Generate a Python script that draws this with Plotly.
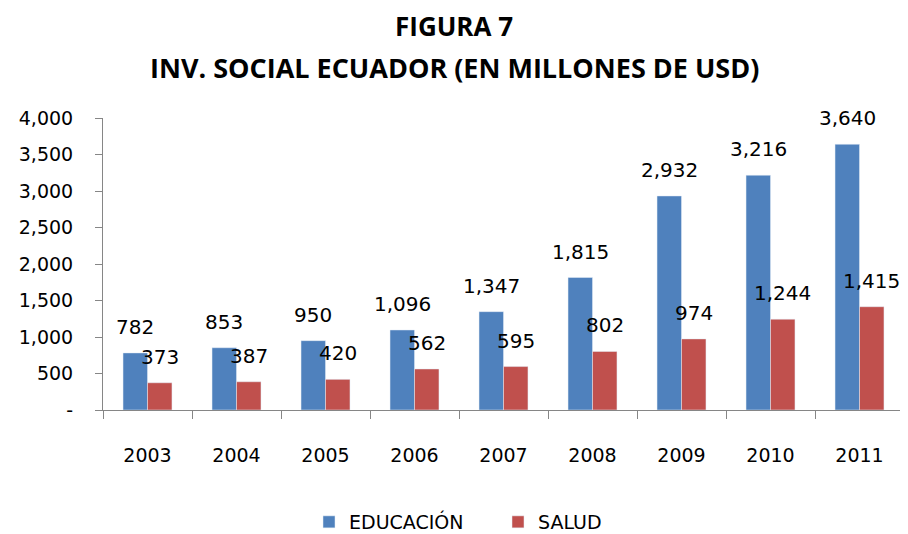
import plotly.graph_objects as go

years = ["2003", "2004", "2005", "2006", "2007", "2008", "2009", "2010", "2011"]
educacion = [782, 853, 950, 1096, 1347, 1815, 2932, 3216, 3640]
salud = [373, 387, 420, 562, 595, 802, 974, 1244, 1415]
y_tickvals = [0, 500, 1000, 1500, 2000, 2500, 3000, 3500, 4000]
y_ticktext = ["-", "500", "1,000", "1,500", "2,000", "2,500", "3,000", "3,500", "4,000"]

NUMFONT = "DejaVu Sans, Verdana, sans-serif"
TITLEFONT = "Open Sans, Calibri, sans-serif"

W, H = 908, 534
OFF = 8  # page body offset
ML, MT = 103 - OFF, 118 - OFF
MR = W - (904 - OFF)
MB = H - (410 - OFF)
plot_w = W - ML - MR
plot_h = H - MT - MB
bargap = 0.45
cat_w = plot_w / len(years)
bar_w = cat_w * (1 - bargap) / 2

fig = go.Figure()
fig.add_trace(go.Bar(x=years, y=educacion, name="EDUCACIÓN", marker_color="#4F81BD"))
fig.add_trace(go.Bar(x=years, y=salud, name="SALUD", marker_color="#C0504D"))

# data labels above each bar (x given as category index)
for series, shift in ((educacion, -bar_w / 2), (salud, bar_w / 2)):
    for i, v in enumerate(series):
        fig.add_annotation(x=i, y=v, xref="x", yref="y", text=f"{v:,}",
                           showarrow=False, xanchor="center", yanchor="middle",
                           xshift=shift, yshift=26,
                           font=dict(size=20, family=NUMFONT, color="#000000"))

fig.update_layout(
    width=W, height=H,
    paper_bgcolor="white", plot_bgcolor="white",
    margin=dict(l=ML, r=MR, t=MT, b=MB, autoexpand=False),
    barmode="group", bargap=bargap, bargroupgap=0,
    font=dict(family=NUMFONT, size=19, color="#000000"),
    showlegend=True,
    legend=dict(orientation="h", xref="container", yref="container",
                x=(309 - OFF) / W, xanchor="left", y=1 - (522 - OFF) / H, yanchor="middle",
                entrywidth=144, entrywidthmode="pixels",
                font=dict(size=19, family=NUMFONT), traceorder="normal"),
)
fig.add_annotation(text="<b>FIGURA 7</b>", xref="paper", yref="paper",
                   x=(454 - OFF - ML) / plot_w, y=1 + (MT - (26 - OFF)) / plot_h,
                   xanchor="center", yanchor="middle",
                   showarrow=False, font=dict(size=26, family=TITLEFONT))
fig.add_annotation(text="<b>INV. SOCIAL ECUADOR (EN MILLONES DE USD)</b>", xref="paper", yref="paper",
                   x=(454 - OFF - ML) / plot_w, y=1 + (MT - (67 - OFF)) / plot_h,
                   xanchor="center", yanchor="middle",
                   showarrow=False, font=dict(size=27, family=TITLEFONT))

fig.update_xaxes(
    type="category", categoryorder="array", categoryarray=years,
    range=[-0.5, len(years) - 0.5],
    showline=True, linecolor="#868686", linewidth=1,
    ticks="outside", tickson="boundaries", ticklen=8, tickcolor="#868686",
    showgrid=False, ticklabelstandoff=28, tickfont=dict(size=19), tickangle=0, automargin=False,
)
fig.update_yaxes(
    range=[0, 4000], tickvals=y_tickvals, ticktext=y_ticktext,
    showline=True, linecolor="#868686", linewidth=1,
    ticks="outside", ticklen=7, tickcolor="#868686",
    showgrid=False, zeroline=False, ticklabelstandoff=18, tickfont=dict(size=19), automargin=False,
)

fig.write_html("out.html")
